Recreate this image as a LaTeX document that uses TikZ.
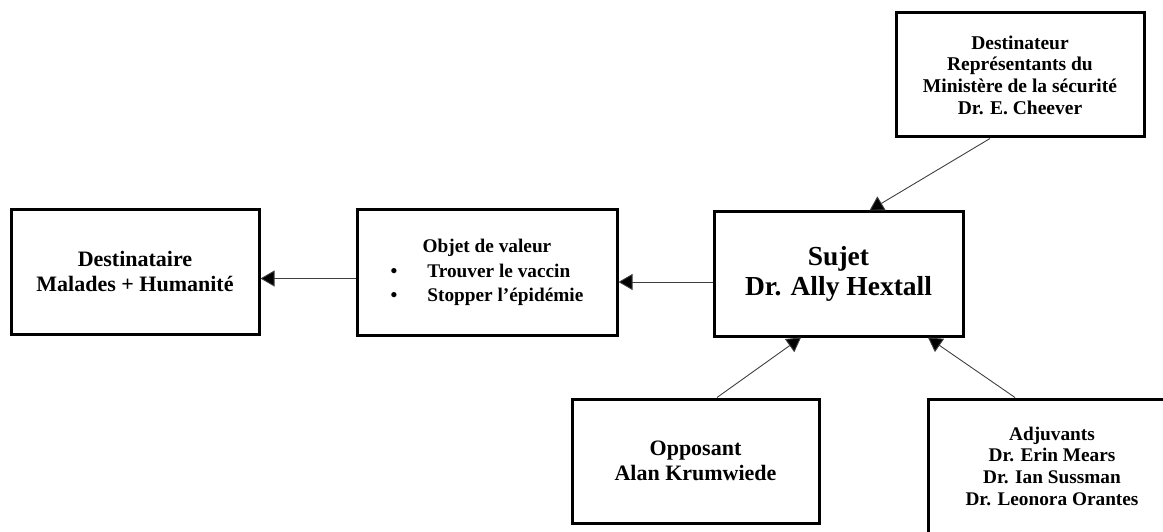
\documentclass[tikz,border=0pt]{standalone}
\usepackage{fontspec}
\setmainfont{Liberation Serif}
\usetikzlibrary{arrows.meta}
\tikzset{
  box/.style={draw=black, line width=3pt, rectangle, inner sep=0pt, align=center, text=black},
  conn/.style={draw=black!75, line width=0.9pt, -{Triangle[length=14pt,width=16pt,fill=black]}},
}
\newcommand{\fsz}[2]{\bfseries\fontsize{#1}{#2}\selectfont}
\begin{document}
\begin{tikzpicture}[x=1pt,y=-1pt]
\useasboundingbox (0,0) rectangle (1163,532);
\clip (0,0) rectangle (1163,532);
\node[box, minimum width=248pt, minimum height=124pt, font=\fsz{19.5}{21.7}] (dtr) at (1020,75)
  {Destinateur\\Représentants du\\Ministère de la sécurité\\Dr. E. Cheever};
\node[box, minimum width=248pt, minimum height=124pt, font=\fsz{22}{25}] (dest) at (135,272)
  {Destinataire\\Malades + Humanité};
\node[box, minimum width=260pt, minimum height=125pt] (obj) at (487,272.5)
  {\fsz{19.3}{24.5}\raisebox{-2pt}{\begin{tabular}{@{}c@{\hspace{30pt}}l@{}}
   \multicolumn{2}{c}{Objet de valeur}\\
   \textbullet & Trouver le vaccin\\
   \textbullet & Stopper l’épidémie
   \end{tabular}}};
\node[box, minimum width=249pt, minimum height=124pt, font=\fsz{27.5}{30}] (suj) at (838.5,274)
  {Sujet\\Dr. Ally Hextall};
\node[box, minimum width=247pt, minimum height=124pt, font=\fsz{22}{25}] (opp) at (695.5,461)
  {Opposant\\Alan Krumwiede};
\node[box, minimum width=248pt, minimum height=134pt, font=\fsz{19.3}{21.7}] (adj) at (1052,466)
  {Adjuvants\\Dr. Erin Mears\\Dr. Ian Sussman\\Dr. Leonora Orantes};
\draw[conn] ([yshift=-6pt]obj.west) -- ([yshift=-6pt]obj.west -| dest.east);
\draw[conn] ([yshift=-8pt]suj.west) -- ([yshift=-8pt]suj.west -| obj.east);
\draw[conn] ([xshift=-30pt]dtr.south) -- ([xshift=31pt]suj.north);
\draw[conn] ([xshift=21.5pt]opp.north) -- ([xshift=-37.5pt]suj.south);
\draw[conn] ([xshift=-37pt]adj.north) -- ([xshift=89.5pt]suj.south);
\end{tikzpicture}
\end{document}
